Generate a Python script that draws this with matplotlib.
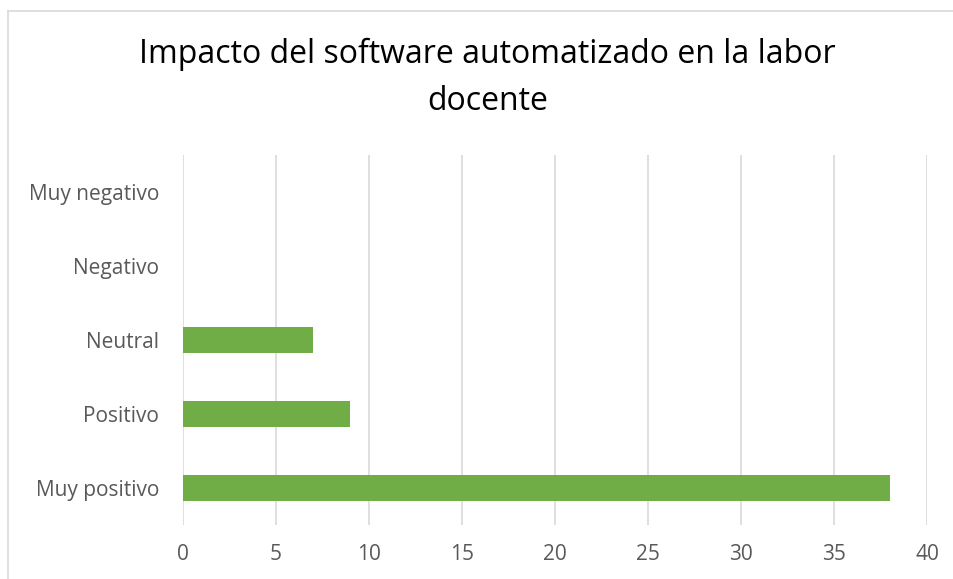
import matplotlib
matplotlib.use("Agg")
import matplotlib.pyplot as plt
from matplotlib.lines import Line2D

categorias = ["Muy positivo", "Positivo", "Neutral", "Negativo", "Muy negativo"]
valores = [38, 9, 7, 0, 0]
ticks_x = [0, 5, 10, 15, 20, 25, 30, 35, 40]

plt.rcParams['font.family'] = ['Open Sans', 'DejaVu Sans']

fig = plt.figure(figsize=(9.54, 5.79), dpi=100)
ax = fig.add_axes([0.1918, 0.0933, 0.7799, 0.639])

ax.barh(categorias, valores, height=0.36, color="#70ad47", zorder=3)
ax.set_xlim(0, 40)
ax.set_ylim(-0.5, 4.5)
ax.set_xticks(ticks_x)
ax.grid(axis="x", color="#d9d9d9", linewidth=1.2, zorder=0)
for s in ax.spines.values():
    s.set_visible(False)
ax.tick_params(axis="both", length=0, labelsize=15, colors="#595959")
ax.tick_params(axis="y", pad=17)
ax.tick_params(axis="x", pad=14)

fig.text(0.511, 0.8653, "Impacto del software automatizado en la labor\ndocente",
         ha="center", va="center", fontsize=23, color="#000000", linespacing=1.53)

# chart area border
fig.add_artist(Line2D([8/954, 8/954], [0, 1 - 11/579], color="#d9d9d9", lw=1.2, transform=fig.transFigure))
fig.add_artist(Line2D([8/954, 1], [1 - 11/579, 1 - 11/579], color="#d9d9d9", lw=1.2, transform=fig.transFigure))

fig.savefig("out.png", dpi=100)
